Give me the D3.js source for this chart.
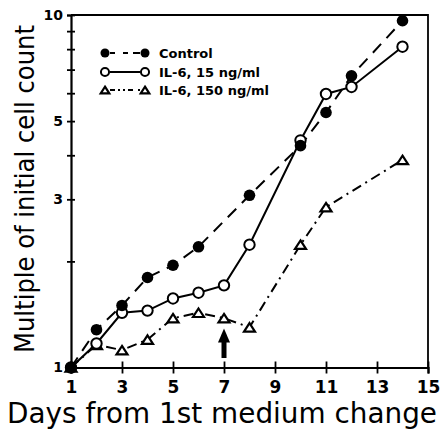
<!DOCTYPE html>
<html>
<head>
<meta charset="utf-8">
<script src="https://cdn.jsdelivr.net/npm/d3@7"></script>
<style>
  html, body { margin: 0; padding: 0; background: #fff; }
  svg { display: block; }
  text { font-family: "DejaVu Sans", sans-serif; fill: #000; }
</style>
</head>
<body>
<svg id="chart" width="442" height="429"></svg>
<script>
// ---------- data ----------
const controlDays = [1, 2, 3, 4, 5, 6, 8, 10, 11, 12, 14];
const controlValues = [1, 1.28, 1.50, 1.80, 1.95, 2.20, 3.08, 4.26, 5.29, 6.72, 9.63];

const il15Days = [1, 2, 3, 4, 5, 6, 7, 8, 10, 11, 12, 14];
const il15Values = [1, 1.17, 1.43, 1.45, 1.57, 1.63, 1.71, 2.23, 4.41, 5.97, 6.25, 8.13];

const il150Days = [1, 2, 3, 4, 5, 6, 7, 8, 10, 11, 14];
const il150Values = [1, 1.16, 1.12, 1.20, 1.38, 1.43, 1.38, 1.30, 2.23, 2.85, 3.88];

const seriesNames = ["Control", "IL\u20116, 15 ng/ml", "IL\u20116, 150 ng/ml"];

const xTickValues = [1, 3, 5, 7, 9, 11, 13, 15];
const yTickValues = [1, 2, 3, 4, 5, 6, 7, 8, 9, 10];
const yTickLabels = [1, 3, 5, 10];

const arrowDay = 7;
const arrowFrom = 1.064;
const arrowTo = 1.29;

const xTitle = "Days from 1st medium change";
const yTitle = "Multiple of initial cell count";

// ---------- layout ----------
const svg = d3.select("#chart");
const plotLeft = 71, plotRight = 428, plotTop = 15, plotBottom = 367.5;

const x = d3.scaleLinear().domain([1, 15]).range([plotLeft, plotRight]);
const y = d3.scaleLog().domain([1, 10]).range([plotBottom, plotTop]);

// frame (top, right)
svg.append("path")
  .attr("d", `M${plotLeft},${plotTop}H${plotRight}V${plotBottom}`)
  .attr("fill", "none").attr("stroke", "#000").attr("stroke-width", 1.8);

// x axis
const gx = svg.append("g").attr("transform", `translate(0,${plotBottom})`)
  .call(d3.axisBottom(x).tickValues(xTickValues).tickSize(6).tickPadding(7).tickFormat(d3.format("d")));
gx.select(".domain").attr("stroke-width", 2.2);
gx.selectAll(".tick line").attr("y1", -6).attr("stroke-width", 1.8);
gx.selectAll(".tick text").attr("font-size", 17).attr("font-weight", "bold")
  .attr("font-family", "DejaVu Sans");

// y axis
const gy = svg.append("g").attr("transform", `translate(${plotLeft},0)`)
  .call(d3.axisLeft(y).tickValues(yTickValues).tickSize(4).tickPadding(4)
    .tickFormat(d => yTickLabels.includes(d) ? String(d) : ""));
gy.select(".domain").attr("stroke-width", 2.2);
gy.selectAll(".tick line").attr("x1", 4).attr("stroke-width", 1.8);
gy.selectAll(".tick text").attr("font-size", 14).attr("font-weight", "bold")
  .attr("font-family", "DejaVu Sans");

// axis titles
svg.append("text")
  .attr("x", (7 + 437) / 2).attr("y", 423)
  .attr("text-anchor", "middle")
  .attr("font-size", 28)
  .attr("textLength", 430).attr("lengthAdjust", "spacingAndGlyphs")
  .text(xTitle);

svg.append("text")
  .attr("transform", `translate(34,${(25 + 353) / 2}) rotate(-90)`)
  .attr("text-anchor", "middle")
  .attr("font-size", 26)
  .attr("textLength", 328).attr("lengthAdjust", "spacingAndGlyphs")
  .text(yTitle);

// ---------- series ----------
const line = d3.line().x(d => x(d[0])).y(d => y(d[1]));
const zip = (a, b) => a.map((d, i) => [d, b[i]]);

const controlData = zip(controlDays, controlValues);
const il15Data = zip(il15Days, il15Values);
const il150Data = zip(il150Days, il150Values);

const styles = [
  { dash: "12,8", marker: "filled" },
  { dash: null, marker: "open" },
  { dash: "10,5,2,5", marker: "triangle" }
];
const allData = [controlData, il15Data, il150Data];

[2, 1, 0].forEach(i => {
  svg.append("path")
    .datum(allData[i])
    .attr("d", line)
    .attr("fill", "none")
    .attr("stroke", "#000")
    .attr("stroke-width", 2)
    .attr("stroke-dasharray", styles[i].dash);
});

function triPath(cx, cy, w, h) {
  return `M${cx},${cy - h / 2}L${cx + w / 2},${cy + h / 2}L${cx - w / 2},${cy + h / 2}Z`;
}

function drawMarker(g, kind, cx, cy, scale) {
  const s = scale || 1;
  if (kind === "filled") {
    g.append("circle").attr("cx", cx).attr("cy", cy).attr("r", 5.8 * s)
      .attr("fill", "#000");
  } else if (kind === "open") {
    g.append("circle").attr("cx", cx).attr("cy", cy).attr("r", 5.2 * s)
      .attr("fill", "#fff").attr("stroke", "#000").attr("stroke-width", 2);
  } else {
    g.append("path").attr("d", triPath(cx, cy, 11 * s, 8.5 * s))
      .attr("fill", "#fff").attr("stroke", "#000").attr("stroke-width", 2.2)
      .attr("stroke-linejoin", "miter");
  }
}

const gm = svg.append("g");
[2, 1, 0].forEach(i => {
  allData[i].forEach(d => drawMarker(gm, styles[i].marker, x(d[0]), y(d[1])));
});

// ---------- arrow ----------
const ax = x(arrowDay);
const yTip = y(arrowTo), yBase = y(arrowFrom);
const headLen = 14, headW = 12, shaftW = 5;
svg.append("rect")
  .attr("x", ax - shaftW / 2).attr("y", yTip + headLen - 1)
  .attr("width", shaftW).attr("height", yBase - (yTip + headLen - 1))
  .attr("fill", "#000");
svg.append("path")
  .attr("d", `M${ax},${yTip}L${ax + headW / 2},${yTip + headLen}L${ax - headW / 2},${yTip + headLen}Z`)
  .attr("fill", "#000");

// ---------- legend ----------
const legX1 = 105, legX2 = 145, legTextX = 159;
const legRows = [53, 72, 90];
const legDash = ["5,8,5", null, "5,3,2,3,2,3,5"];
const lg = svg.append("g");
seriesNames.forEach((name, i) => {
  const cy = legRows[i];
  lg.append("line")
    .attr("x1", legX1 + 5).attr("x2", legX2 - 5)
    .attr("y1", cy).attr("y2", cy)
    .attr("stroke", "#000").attr("stroke-width", 2)
    .attr("stroke-dasharray", legDash[i]);
  drawMarker(lg, styles[i].marker, legX1, cy, 0.78);
  drawMarker(lg, styles[i].marker, legX2, cy, 0.78);
  lg.append("text")
    .attr("x", legTextX).attr("y", cy + 4.8)
    .attr("font-size", 13).attr("font-weight", "bold")
    .text(name);
});
</script>
</body>
</html>
